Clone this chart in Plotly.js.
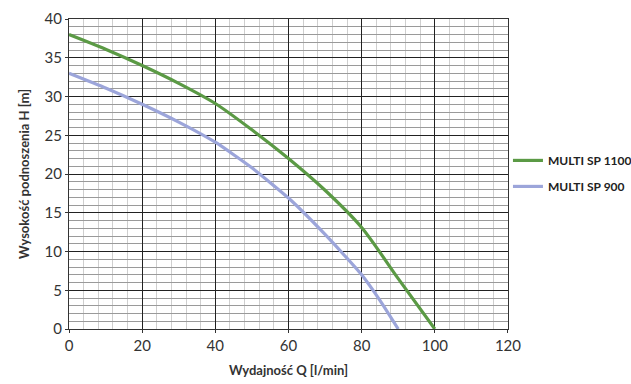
<!DOCTYPE html>
<html>
<head>
<meta charset="utf-8">
<script src="https://cdn.plot.ly/plotly-3.0.1.min.js"></script>
<style>html,body{margin:0;padding:0;background:#fff}#chart{width:631px;height:384px}</style>
</head>
<body>
<div id="chart"></div>
<script>
var flowQ1100 = [0, 10, 20, 30, 40, 50, 60, 70, 80, 90, 100];
var headH1100 = [38, 36.1, 34, 31.7, 29.1, 25.7, 22, 17.9, 13.1, 6.5, 0];
var flowQ900 = [0, 10, 20, 30, 40, 50, 60, 70, 80, 85, 90];
var headH900 = [33, 31.1, 29, 26.7, 24.1, 20.8, 16.9, 12.2, 7, 3.7, 0];
var seriesNames = ["MULTI SP 1100", "MULTI SP 900"];
var xTitle = "Wydajność Q [l/min]";
var yTitle = "Wysokość podnoszenia H [m]";

var fontFam = "Lato, 'Noto Sans', sans-serif";
var traces = [
  {x: flowQ1100, y: headH1100, name: seriesNames[0], mode: "lines", legendgroup: "a",
   line: {color: "#5b9a45", width: 3.2, shape: "spline", smoothing: 0.8}},
  {x: flowQ900, y: headH900, name: seriesNames[1], mode: "lines", legendgroup: "b",
   line: {color: "#9ca5da", width: 3.2, shape: "spline", smoothing: 0.5}}
];
var layout = {
  width: 631, height: 384,
  margin: {l: 69, r: 123, t: 19, b: 55},
  paper_bgcolor: "#fff", plot_bgcolor: "#fff",
  font: {family: fontFam, color: "#333"},
  showlegend: true,
  legend: {xref: "container", yref: "container", x: 0.805, xanchor: "left", y: 0.62, yanchor: "top",
           font: {size: 12, color: "#222", family: fontFam, weight: "bold"},
           tracegroupgap: 7, itemwidth: 30, bgcolor: "rgba(0,0,0,0)"},
  xaxis: {range: [0, 120], dtick: 20, tick0: 0, showgrid: true, gridcolor: "#222", gridwidth: 1,
          zeroline: false, showline: true, linecolor: "#333", linewidth: 1, mirror: true,
          ticks: "outside", ticklen: 3, tickcolor: "#333",
          tickfont: {size: 15, color: "#333"},
          minor: {dtick: 4, showgrid: true, gridcolor: "#cfcfcf", gridwidth: 1},
          title: {text: xTitle, font: {size: 13, color: "#333", weight: "bold"}, standoff: 12}},
  yaxis: {range: [0, 40], dtick: 5, tick0: 0, showgrid: true, gridcolor: "#222", gridwidth: 1,
          zeroline: false, showline: true, linecolor: "#333", linewidth: 1, mirror: true,
          ticks: "outside", ticklen: 3, tickcolor: "#333",
          tickfont: {size: 15, color: "#333"},
          minor: {dtick: 1, showgrid: true, gridcolor: "#9a9a9a", gridwidth: 1},
          title: {text: yTitle, font: {size: 13, color: "#333", weight: "bold"}, standoff: 12}}
};
Plotly.newPlot("chart", traces, layout, {displayModeBar: false, staticPlot: true});
</script>
</body>
</html>
